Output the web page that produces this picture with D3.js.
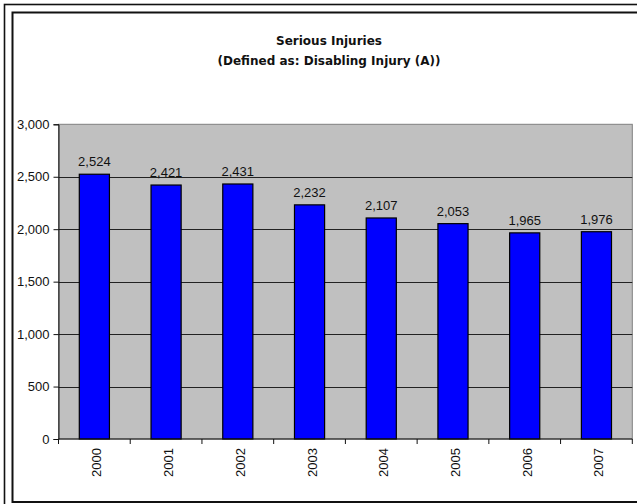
<!DOCTYPE html>
<html>
<head>
<meta charset="utf-8">
<script src="https://cdn.jsdelivr.net/npm/d3@7"></script>
<style>
  html, body { margin: 0; padding: 0; background: #fff; }
  svg { display: block; }
</style>
</head>
<body>
<svg id="chart" width="637" height="504"></svg>
<script>
const years = ["2000", "2001", "2002", "2003", "2004", "2005", "2006", "2007"];
const injuries = [2524, 2421, 2431, 2232, 2107, 2053, 1965, 1976];
const yTicks = [0, 500, 1000, 1500, 2000, 2500, 3000];
const titleLines = ["Serious Injuries", "(Defined as: Disabling Injury (A))"];

(function () {
const svg = d3.select("#chart");
const font = "'Liberation Sans', Arial, sans-serif";
const titleFont = "'DejaVu Sans', Verdana, sans-serif";

// frames
svg.append("rect").attr("x", 4.5).attr("y", 4.5).attr("width", 660).attr("height", 520)
  .attr("fill", "none").attr("stroke", "#111").attr("stroke-width", 1.6);
svg.append("rect").attr("x", 12.5).attr("y", 12.5).attr("width", 660).attr("height", 489.5)
  .attr("fill", "none").attr("stroke", "#111").attr("stroke-width", 2);

const pLeft = 58.5, pRight = 632.3, pTop = 124.3, pBottom = 439;

const x = d3.scaleBand().domain(years).range([pLeft, pRight]).paddingInner(0).paddingOuter(0);
const y = d3.scaleLinear().domain([0, 3000]).range([pBottom, pTop]);

// plot background
svg.append("rect").attr("x", pLeft).attr("y", pTop).attr("width", pRight - pLeft).attr("height", pBottom - pTop)
  .attr("fill", "#c0c0c0").attr("stroke", "#808080").attr("stroke-width", 1);

// gridlines
svg.append("g").selectAll("line").data(yTicks.filter(d => d > 0 && d < 3000)).join("line")
  .attr("x1", pLeft).attr("x2", pRight)
  .attr("y1", d => Math.round(y(d)) + 0.5).attr("y2", d => Math.round(y(d)) + 0.5)
  .attr("stroke", "#222").attr("stroke-width", 1);

// bars
const bw = x.bandwidth() * 0.42;
svg.append("g").selectAll("rect").data(injuries).join("rect")
  .attr("x", (d, i) => x(years[i]) + x.bandwidth() / 2 - bw / 2)
  .attr("y", d => y(d))
  .attr("width", bw)
  .attr("height", d => pBottom - y(d))
  .attr("fill", "#0000ff").attr("stroke", "#000").attr("stroke-width", 1.2);

// value labels
svg.append("g").selectAll("text").data(injuries).join("text")
  .attr("x", (d, i) => x(years[i]) + x.bandwidth() / 2)
  .attr("y", d => y(d) - 8)
  .attr("text-anchor", "middle")
  .attr("font-family", font).attr("font-size", 13).attr("fill", "#111")
  .text(d => d3.format(",")(d));

// y axis
const yAxis = d3.axisLeft(y).tickValues(yTicks).tickSize(5).tickPadding(4).tickFormat(d3.format(","));
const gy = svg.append("g").attr("transform", `translate(${pLeft},0)`).call(yAxis);
gy.select(".domain").attr("stroke", "#111");
gy.selectAll(".tick line").attr("stroke", "#111");
gy.selectAll("text").attr("font-family", font).attr("font-size", 13).attr("fill", "#111");

// x axis
const xLine = svg.append("g");
xLine.append("line").attr("x1", pLeft).attr("x2", pRight).attr("y1", pBottom).attr("y2", pBottom)
  .attr("stroke", "#111").attr("stroke-width", 1);
const bounds = years.map(d => x(d)).concat([pRight]);
xLine.selectAll("line.tk").data(bounds).join("line").attr("class", "tk")
  .attr("x1", d => d).attr("x2", d => d).attr("y1", pBottom).attr("y2", pBottom + 5)
  .attr("stroke", "#111");
svg.append("g").selectAll("text").data(years).join("text")
  .attr("transform", d => `translate(${x(d) + x.bandwidth() / 2 + 7},${pBottom + 9}) rotate(-90)`)
  .attr("text-anchor", "end")
  .attr("font-family", font).attr("font-size", 13).attr("fill", "#111")
  .text(d => d);

// title
svg.append("g").selectAll("text").data(titleLines).join("text")
  .attr("x", 329).attr("y", (d, i) => 45 + i * 20)
  .attr("text-anchor", "middle")
  .attr("font-family", titleFont).attr("font-weight", "bold").attr("font-size", 12).attr("fill", "#111")
  .text(d => d);
})();
</script>
</body>
</html>
